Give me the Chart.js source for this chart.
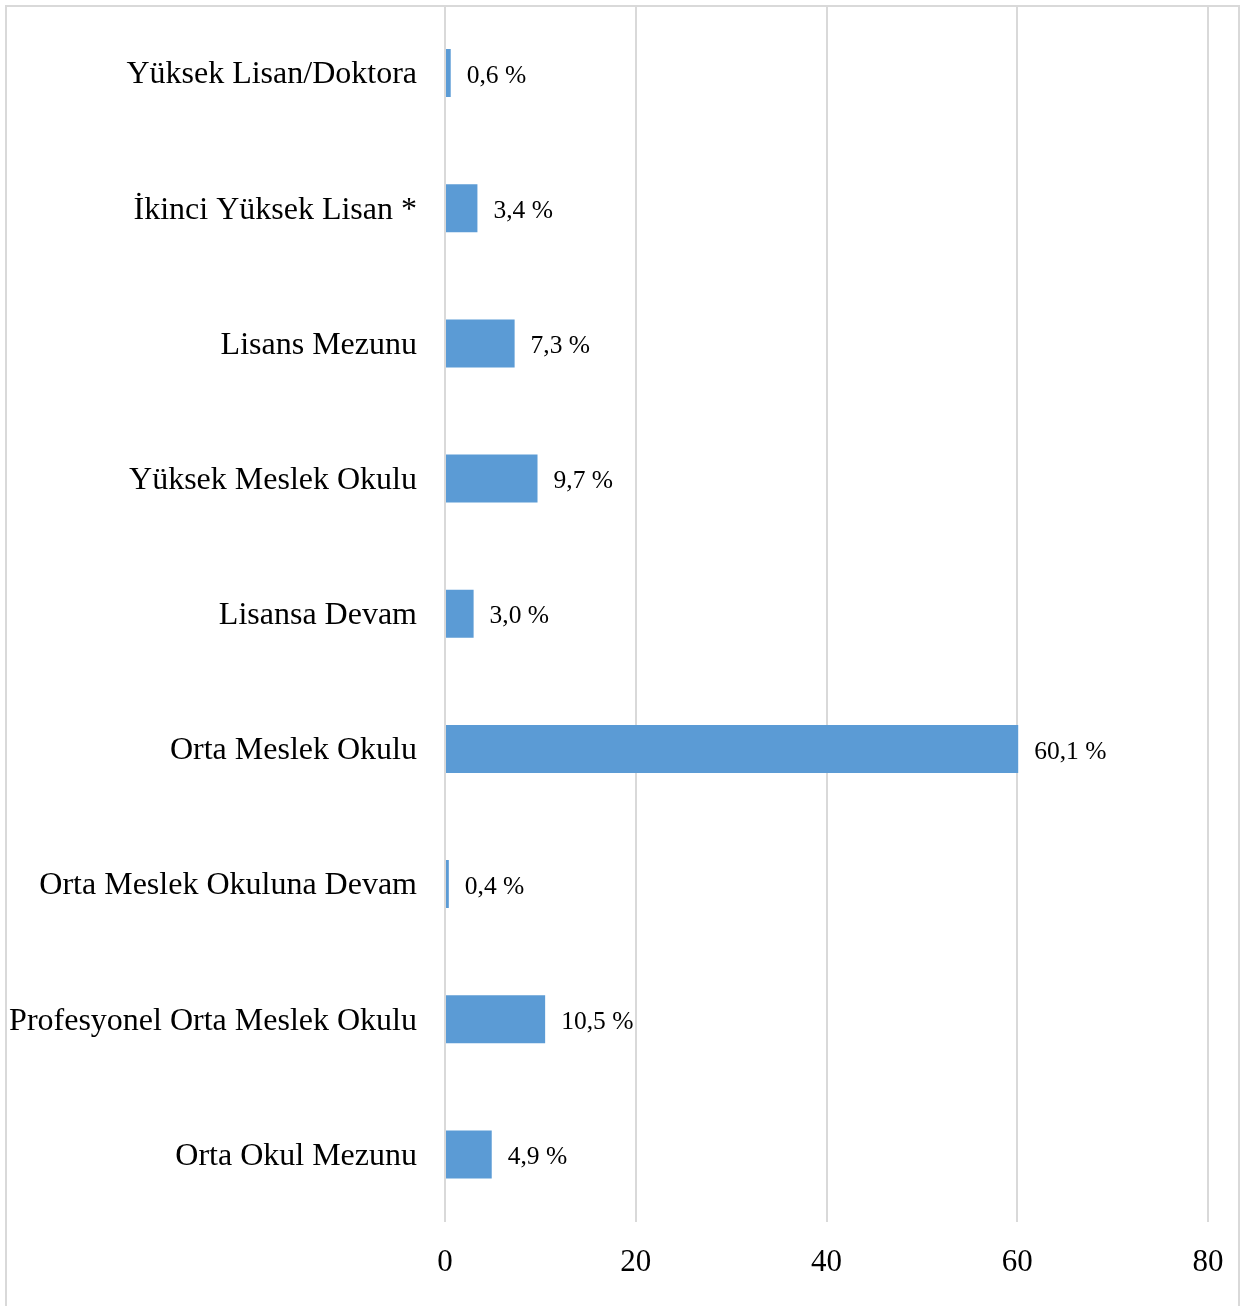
<!DOCTYPE html>
<html>
<head>
<meta charset="utf-8">
<script src="https://cdn.jsdelivr.net/npm/chart.js@4/dist/chart.umd.min.js"></script>
<style>
html,body{margin:0;padding:0;background:#fff;}
canvas{display:block;}
</style>
</head>
<body>
<canvas id="c" width="1243" height="1306"></canvas>
<script>
const categories = [
  "Yüksek Lisan/Doktora",
  "İkinci Yüksek Lisan *",
  "Lisans Mezunu",
  "Yüksek Meslek Okulu",
  "Lisansa Devam",
  "Orta Meslek Okulu",
  "Orta Meslek Okuluna Devam",
  "Profesyonel Orta Meslek Okulu",
  "Orta Okul Mezunu"
];
const values = [0.6, 3.4, 7.3, 9.7, 3.0, 60.1, 0.4, 10.5, 4.9];
const valueLabels = ["0,6 %", "3,4 %", "7,3 %", "9,7 %", "3,0 %", "60,1 %", "0,4 %", "10,5 %", "4,9 %"];
const xTicks = [0, 20, 40, 60, 80];

const FONT = "'Liberation Serif', 'Times New Roman', serif";

const frame = {
  id: 'frame',
  beforeDraw(chart) {
    const ctx = chart.ctx;
    ctx.save();
    ctx.fillStyle = '#ffffff';
    ctx.fillRect(0, 0, chart.width, chart.height);
    ctx.strokeStyle = '#d9d9d9';
    ctx.lineWidth = 2;
    ctx.beginPath();
    ctx.moveTo(6, 1306);
    ctx.lineTo(6, 6);
    ctx.lineTo(1239, 6);
    ctx.lineTo(1239, 1306);
    ctx.stroke();
    ctx.restore();
  }
};

const barLabels = {
  id: 'barLabels',
  afterDatasetsDraw(chart) {
    const ctx = chart.ctx;
    const meta = chart.getDatasetMeta(0);
    ctx.save();
    ctx.font = '25.5px ' + FONT;
    ctx.fillStyle = '#000000';
    ctx.textAlign = 'left';
    ctx.textBaseline = 'middle';
    meta.data.forEach((bar, i) => {
      ctx.fillText(valueLabels[i], bar.x + 16, bar.y + 3);
    });
    ctx.restore();
  }
};

new Chart(document.getElementById('c'), {
  type: 'bar',
  data: {
    labels: categories,
    datasets: [{
      data: values,
      backgroundColor: '#5b9bd5',
      borderWidth: 0,
      barPercentage: 0.355,
      categoryPercentage: 1.0
    }]
  },
  options: {
    indexAxis: 'y',
    responsive: false,
    animation: false,
    devicePixelRatio: 1,
    layout: { padding: { top: 5.5, right: 35, left: 0, bottom: 0 } },
    plugins: { legend: { display: false }, tooltip: { enabled: false } },
    scales: {
      x: {
        min: 0, max: 80,
        afterBuildTicks(scale) { scale.ticks = xTicks.map(v => ({ value: v })); },
        afterFit(scale) { scale.height = 84; scale.paddingLeft = 0; scale.paddingRight = 0; },
        grid: { color: '#d9d9d9', lineWidth: 2, drawTicks: false },
        border: { display: false },
        ticks: { padding: 22, color: '#000', font: { family: FONT, size: 31 }, maxRotation: 0 }
      },
      y: {
        afterFit(scale) { scale.width = 445; scale.paddingTop = 0; scale.paddingBottom = 0; },
        grid: { display: false, drawTicks: false },
        border: { display: false },
        ticks: { padding: 28, labelOffset: 2, color: '#000', font: { family: FONT, size: 32 }, autoSkip: false }
      }
    }
  },
  plugins: [frame, barLabels]
});
</script>
</body>
</html>
